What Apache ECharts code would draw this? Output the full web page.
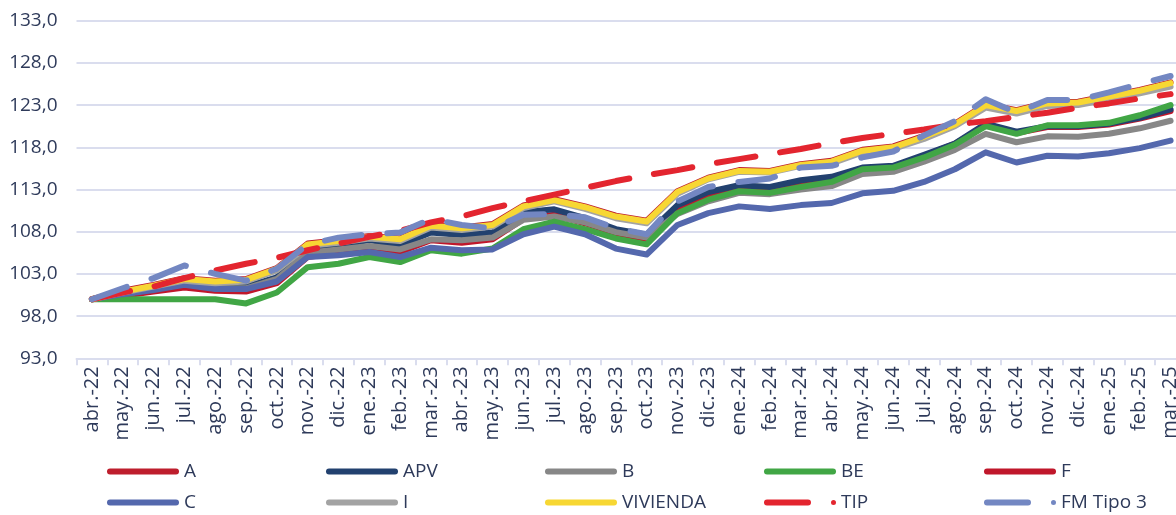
<!DOCTYPE html>
<html>
<head>
<meta charset="utf-8">
<script src="https://cdn.jsdelivr.net/npm/echarts@6/dist/echarts.min.js"></script>
<style>html,body{margin:0;padding:0;background:#fff;}#c{width:1176px;height:515px;}</style>
</head>
<body>
<div id="c"></div>
<script>
var categories = ["abr.-22","may.-22","jun.-22","jul.-22","ago.-22","sep.-22","oct.-22","nov.-22","dic.-22","ene.-23","feb.-23","mar.-23","abr.-23","may.-23","jun.-23","jul.-23","ago.-23","sep.-23","oct.-23","nov.-23","dic.-23","ene.-24","feb.-24","mar.-24","abr.-24","may.-24","jun.-24","jul.-24","ago.-24","sep.-24","oct.-24","nov.-24","dic.-24","ene.-25","feb.-25","mar.-25"];

var serA =   [100.0,101.0,101.7,102.5,102.2,102.4,103.7,106.6,107.0,107.5,107.2,108.8,108.5,108.9,111.1,111.85,111.0,109.9,109.3,112.8,114.4,115.3,115.2,116.0,116.4,117.7,118.1,119.35,120.8,123.1,122.4,123.3,123.4,124.1,124.8,125.7];
var serAPV = [100.0,100.7,101.3,101.9,101.5,101.5,102.6,105.8,106.4,107.0,106.4,107.9,107.6,107.9,110.3,110.65,109.6,108.3,107.65,111.15,112.7,113.5,113.3,114.1,114.5,115.6,115.8,117.1,118.45,120.8,119.85,120.5,120.5,120.8,121.5,122.5];
var serB =   [100.0,100.6,101.2,101.8,101.3,101.3,102.4,105.5,105.9,106.3,105.9,107.1,107.0,107.3,109.4,109.8,109.1,107.95,107.3,110.1,111.6,112.6,112.45,113.0,113.4,114.85,115.1,116.3,117.7,119.6,118.6,119.3,119.25,119.6,120.25,121.15];
var serBE =  [100.0,100.0,100.0,100.0,100.0,99.5,100.8,103.8,104.2,105.0,104.4,105.8,105.4,106.0,108.3,109.2,108.3,107.2,106.5,110.2,111.8,112.8,112.6,113.3,113.9,115.4,115.6,116.8,118.3,120.5,119.6,120.6,120.6,120.9,121.8,123.0];
var serF =   [100.0,100.4,100.9,101.4,101.0,100.9,101.9,105.0,105.5,106.2,105.6,107.0,106.7,107.1,109.5,110.0,109.0,107.8,107.1,110.7,112.2,113.1,112.9,113.7,114.2,115.5,115.7,117.0,118.4,120.6,119.7,120.4,120.4,120.7,121.4,122.3];
var serC =   [100.0,100.6,101.1,101.7,101.2,101.2,102.1,105.0,105.2,105.6,105.0,106.1,105.8,105.9,107.7,108.6,107.7,106.0,105.3,108.8,110.2,111.0,110.7,111.15,111.4,112.55,112.85,113.9,115.4,117.4,116.2,117.0,116.9,117.3,117.9,118.8];
var serI =   [100.0,100.8,101.5,102.2,101.9,102.1,103.4,106.3,106.7,107.2,106.9,108.5,108.2,108.6,110.8,111.6,110.7,109.6,109.0,112.5,114.2,115.1,115.0,115.8,116.1,117.4,117.8,119.0,120.5,122.7,122.0,122.9,123.0,123.7,124.4,125.2];
var serVIV = [100.0,100.9,101.6,102.4,102.1,102.3,103.6,106.5,106.9,107.4,107.1,108.7,108.4,108.8,111.0,111.75,110.9,109.8,109.2,112.7,114.3,115.2,115.1,115.9,116.3,117.6,118.0,119.25,120.7,123.0,122.3,123.2,123.3,124.0,124.7,125.6];
var serTIP = [100.0,100.8,101.5,102.5,103.4,104.2,104.9,105.8,106.6,107.4,108.1,109.1,109.8,110.8,111.6,112.4,113.2,114.0,114.7,115.3,116.0,116.6,117.2,117.8,118.5,119.1,119.6,120.1,120.7,121.1,121.6,122.1,122.7,123.2,123.8,124.3];
var serFM =  [100.0,101.3,102.5,104.0,103.0,102.2,103.6,106.5,107.3,107.7,107.9,109.5,108.8,108.4,110.0,110.1,109.7,108.4,107.7,111.6,113.3,113.9,114.3,115.6,115.8,116.8,117.5,119.4,121.1,123.7,122.1,123.6,123.6,124.5,125.5,126.45];

var yTicks = {min: 93, max: 133, step: 5};

var textColor = '#2E3A5A';
var gridColor = '#DADDEE';
var FONT = 'Open Sans';

var solidIcon = 'path://M3,0 L69,0 A3,3 0 0 1 69,6 L3,6 A3,3 0 0 1 3,0 Z';
var dashIcon = 'path://M3,0 L44,0 A3,3 0 0 1 44,6 L3,6 A3,3 0 0 1 3,0 Z M69.5,0.5 A2.5,2.5 0 1 1 69.5,5.5 A2.5,2.5 0 1 1 69.5,0.5 Z';

var defs = [
  {name: 'A', data: serA, color: '#BE1E2D'},
  {name: 'F', data: serF, color: '#C0172B'},
  {name: 'APV', data: serAPV, color: '#22416F'},
  {name: 'B', data: serB, color: '#878787'},
  {name: 'BE', data: serBE, color: '#41A645'},
  {name: 'C', data: serC, color: '#5468AD'},
  {name: 'I', data: serI, color: '#A3A3A3'},
  {name: 'VIVIENDA', data: serVIV, color: '#F7D733'},
  {name: 'TIP', data: serTIP, color: '#E3252F', dash: [39, 25]},
  {name: 'FM Tipo 3', data: serFM, color: '#7387C2', dash: [37, 26]}
];

var series = defs.map(function (d) {
  return {
    name: d.name,
    type: 'line',
    data: d.data,
    symbol: 'none',
    showSymbol: false,
    smooth: false,
    animation: false,
    lineStyle: {color: d.color, width: 6, type: d.dash ? d.dash : 'solid', cap: 'round', join: 'round'},
    itemStyle: {color: d.color},
    emphasis: {disabled: true}
  };
});

var legendLayout = [
  ['A', 107, 0], ['APV', 326, 0], ['B', 545, 0], ['BE', 764, 0], ['F', 984, 0],
  ['C', 107, 1], ['I', 326, 1], ['VIVIENDA', 545, 1], ['TIP', 764, 1], ['FM Tipo 3', 984, 1]
];
var legends = legendLayout.map(function (l) {
  var dashed = (l[0] === 'TIP' || l[0] === 'FM Tipo 3');
  return {
    data: [{name: l[0], icon: dashed ? dashIcon : solidIcon}],
    left: l[1],
    top: l[2] === 0 ? 462 : 493,
    itemWidth: 72,
    itemHeight: 6,
    itemGap: 0,
    padding: 0,
    selectedMode: false,
    textStyle: {color: textColor, fontFamily: FONT, fontSize: 19, padding: [0, 0, 0, 0]},
    formatter: '{name}'
  };
});

var chart = echarts.init(document.getElementById('c'), null, {renderer: 'canvas'});
chart.setOption({
  backgroundColor: '#ffffff',
  animation: false,
  grid: {left: 76.5, right: -10, top: 20.7, bottom: 156.7, containLabel: false, outerBoundsMode: 'none'},
  legend: legends,
  xAxis: {
    type: 'category',
    data: categories,
    boundaryGap: true,
    axisLine: {show: true, lineStyle: {color: gridColor, width: 2}},
    axisTick: {show: true, length: 7, lineStyle: {color: gridColor, width: 2}, alignWithLabel: false},
    axisLabel: {rotate: 90, interval: 0, margin: 8, color: textColor, fontFamily: FONT, fontSize: 20},
    splitLine: {show: false}
  },
  yAxis: {
    type: 'value',
    min: yTicks.min,
    max: yTicks.max,
    interval: yTicks.step,
    axisLine: {show: false},
    axisTick: {show: false},
    axisLabel: {
      margin: 19, color: textColor, fontFamily: FONT, fontSize: 19,
      formatter: function (v) { return v.toFixed(1).replace('.', ','); }
    },
    splitLine: {show: true, lineStyle: {color: gridColor, width: 2}}
  },
  series: series
});
</script>
</body>
</html>
